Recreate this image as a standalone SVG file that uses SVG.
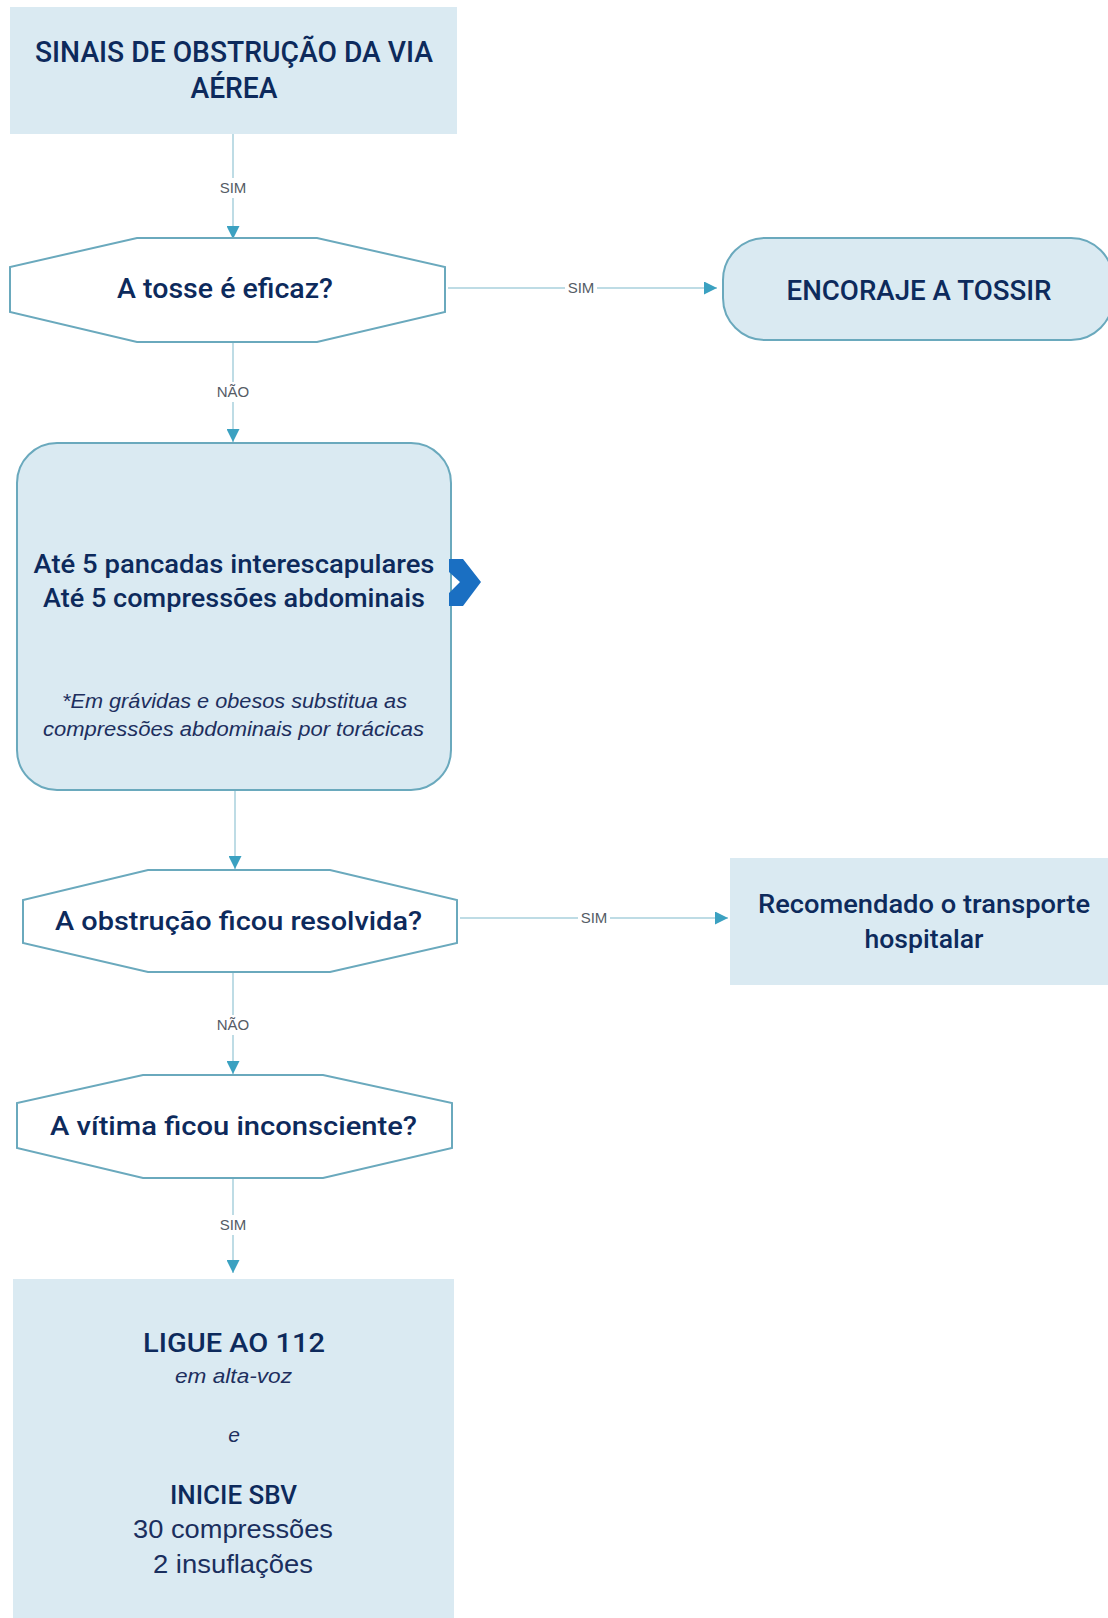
<svg xmlns="http://www.w3.org/2000/svg" width="1108" height="1618" viewBox="0 0 1108 1618">
<style>
.box{fill:#daeaf2;stroke:none}
.rbox{fill:#daeaf2;stroke:#6aa9bd;stroke-width:2}
.hex{fill:#ffffff;stroke:#6aa9bd;stroke-width:2}
.t{font-family:"Roboto","Liberation Sans",sans-serif;font-weight:500;fill:#0d2a5c;text-anchor:middle}
.r{font-family:"Liberation Sans",Arial,sans-serif;font-weight:normal;fill:#1a2f5e;text-anchor:middle}
.i{font-family:"Liberation Sans",Arial,sans-serif;font-style:italic;fill:#1d2f5e;text-anchor:middle}
.lbl{font-family:"Liberation Sans",Arial,sans-serif;font-size:15px;fill:#555c66;text-anchor:middle}
.con{fill:none;stroke:#a9d0dc;stroke-width:1.5}
.lbg{fill:#ffffff}
</style>
<defs>
<marker id="arr" viewBox="0 0 10 10" refX="10" refY="5" markerUnits="userSpaceOnUse" markerWidth="15" markerHeight="13" orient="auto">
<path d="M0,0 L10,5 L0,10 z" fill="#3ba1c1"/>
</marker>
</defs>
<rect width="1108" height="1618" fill="#ffffff"/>

<g id="connectors">
<path class="con" d="M233,134 L233,239" marker-end="url(#arr)"/>
<rect class="lbg" x="217" y="178" width="32" height="20"/>
<text class="lbl" x="233" y="193">SIM</text>

<path class="con" d="M448,288 L717,288" marker-end="url(#arr)"/>
<rect class="lbg" x="565" y="278" width="32" height="20"/>
<text class="lbl" x="581" y="293">SIM</text>

<path class="con" d="M233,343 L233,442" marker-end="url(#arr)"/>
<rect class="lbg" x="215" y="382" width="36" height="20"/>
<text class="lbl" x="233" y="397">NÃO</text>

<path class="con" d="M235,790 L235,869" marker-end="url(#arr)"/>

<path class="con" d="M460,918 L728,918" marker-end="url(#arr)"/>
<rect class="lbg" x="578" y="908" width="32" height="20"/>
<text class="lbl" x="594" y="923">SIM</text>

<path class="con" d="M233,973 L233,1074" marker-end="url(#arr)"/>
<rect class="lbg" x="215" y="1015" width="36" height="20"/>
<text class="lbl" x="233" y="1030">NÃO</text>

<path class="con" d="M233,1179 L233,1273" marker-end="url(#arr)"/>
<rect class="lbg" x="217" y="1215" width="32" height="20"/>
<text class="lbl" x="233" y="1230">SIM</text>
</g>

<g id="node-sinais">
<rect class="box" x="10" y="7" width="447" height="127"/>
<text class="t" x="234" y="62" font-size="29" textLength="398" lengthAdjust="spacingAndGlyphs">SINAIS DE OBSTRUÇÃO DA VIA</text>
<text class="t" x="234" y="98" font-size="29" textLength="87" lengthAdjust="spacingAndGlyphs">AÉREA</text>
</g>

<g id="node-tosse">
<polygon class="hex" points="137,238 317,238 445,267 445,312 317,342 137,342 10,312 10,267"/>
<text class="t" x="225" y="298" font-size="27" textLength="216" lengthAdjust="spacingAndGlyphs">A tosse é eficaz?</text>
</g>

<g id="node-encoraje">
<rect class="rbox" x="723" y="238" width="390" height="102" rx="42" ry="42"/>
<text class="t" x="919" y="300" font-size="27" textLength="265" lengthAdjust="spacingAndGlyphs">ENCORAJE A TOSSIR</text>
</g>

<g id="node-pancadas">
<rect class="rbox" x="17" y="443" width="434" height="347" rx="40" ry="40"/>
<text class="t" x="234" y="573" font-size="25" textLength="401" lengthAdjust="spacingAndGlyphs">Até 5 pancadas interescapulares</text>
<text class="t" x="234" y="607" font-size="25" textLength="382" lengthAdjust="spacingAndGlyphs">Até 5 compressões abdominais</text>
<text class="i" x="234.5" y="708" font-size="20" textLength="345" lengthAdjust="spacingAndGlyphs">*Em grávidas e obesos substitua as</text>
<text class="i" x="233.5" y="736" font-size="20" textLength="381" lengthAdjust="spacingAndGlyphs">compressões abdominais por torácicas</text>
<polygon points="449,559 463,559 481,582 463,606 449,606 449,593 460,582 449,572" fill="#1a6fc2"/>
</g>

<g id="node-resolvida">
<polygon class="hex" points="148,870 330,870 457,900 457,943 330,972 148,972 23,943 23,900"/>
<text class="t" x="238.5" y="930" font-size="25" textLength="367" lengthAdjust="spacingAndGlyphs">A obstrução ficou resolvida?</text>
</g>

<g id="node-transporte">
<rect class="box" x="730" y="858" width="380" height="127"/>
<text class="t" x="924" y="913" font-size="25" textLength="332" lengthAdjust="spacingAndGlyphs">Recomendado o transporte</text>
<text class="t" x="924" y="948" font-size="25" textLength="119" lengthAdjust="spacingAndGlyphs">hospitalar</text>
</g>

<g id="node-inconsciente">
<polygon class="hex" points="143,1075 323,1075 452,1103 452,1148 323,1178 143,1178 17,1148 17,1103"/>
<text class="t" x="233.5" y="1135" font-size="25" textLength="367" lengthAdjust="spacingAndGlyphs">A vítima ficou inconsciente?</text>
</g>

<g id="node-sbv">
<rect class="box" x="13" y="1279" width="441" height="345"/>
<text class="t" x="234" y="1352" font-size="26" textLength="182" lengthAdjust="spacingAndGlyphs">LIGUE AO 112</text>
<text class="i" x="233.5" y="1383" font-size="21" textLength="117" lengthAdjust="spacingAndGlyphs">em alta-voz</text>
<text class="i" x="234" y="1442" font-size="21">e</text>
<text class="t" x="233.5" y="1504" font-size="26" textLength="127" lengthAdjust="spacingAndGlyphs">INICIE SBV</text>
<text class="r" x="233" y="1538" font-size="25" textLength="200" lengthAdjust="spacingAndGlyphs">30 compressões</text>
<text class="r" x="233" y="1573" font-size="25" textLength="160" lengthAdjust="spacingAndGlyphs">2 insuflações</text>
</g>
</svg>
